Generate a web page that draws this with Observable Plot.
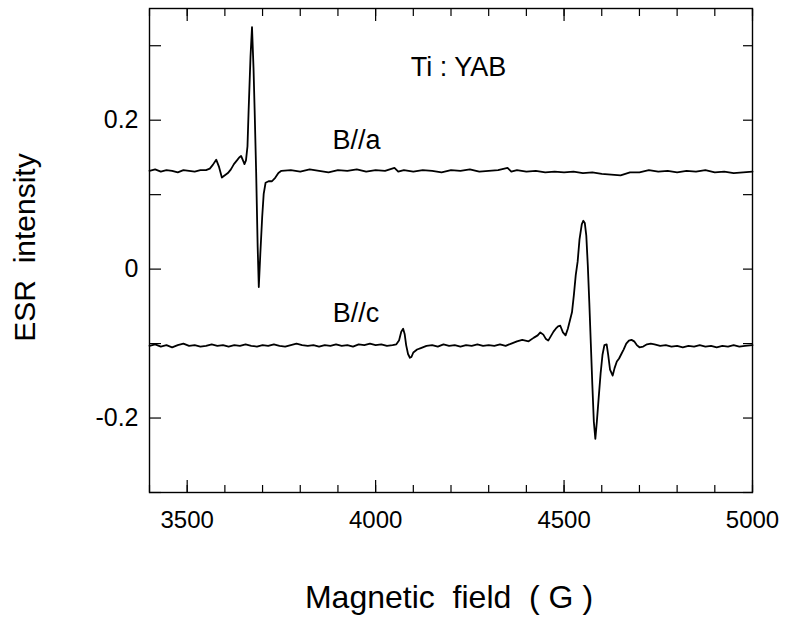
<!DOCTYPE html>
<html><head><meta charset="utf-8">
<script src="https://cdn.jsdelivr.net/npm/d3@7"></script>
<script src="https://cdn.jsdelivr.net/npm/@observablehq/plot@0.6"></script>
<style>
body{margin:0;background:#fff}
svg{font-family:"Liberation Sans",Arial,Helvetica,sans-serif}
</style>
</head><body><div id="chart"></div>
<script>
// ---- data ----
const seriesNames = ["B//a", "B//c"];
const sampleName = "Ti : YAB";

const fieldA = [3400,3415,3430,3445,3460,3475,3490,3505,3520,3535,3550,3560,3568,3577,3584,3592,3600,3608,3616,3624,3632,3638,3643,3648,3652,3656,3660,3663,3668,3672,3676,3679,3683,3687,3690,3694,3699,3703,3708,3716,3725,3734,3742,3750,
  3775,3800,3825,3850,3875,3900,3925,3950,3975,4000,4025,4050,4060,4075,4100,4125,4150,4175,4200,4225,4250,4275,4300,4325,4350,4360,4375,4400,4425,4450,4475,4500,4525,4550,4575,4600,4625,4650,4675,4700,4725,4750,4775,4800,4825,4850,4875,4900,4925,4950,4975,5000];
const intensityA = [0.132,0.134,0.131,0.133,0.132,0.130,0.133,0.132,0.131,0.133,0.133,0.135,0.140,0.147,0.138,0.123,0.126,0.129,0.134,0.141,0.146,0.150,0.152,0.146,0.141,0.146,0.165,0.213,0.285,0.325,0.270,0.213,0.130,0.030,-0.024,0.020,0.070,0.101,0.116,0.118,0.118,0.123,0.129,0.132,
  0.133,0.131,0.134,0.132,0.130,0.133,0.132,0.134,0.131,0.133,0.132,0.136,0.131,0.133,0.131,0.133,0.132,0.130,0.133,0.132,0.134,0.131,0.132,0.133,0.136,0.131,0.133,0.131,0.132,0.130,0.131,0.130,0.131,0.129,0.130,0.128,0.127,0.126,0.130,0.130,0.133,0.131,0.132,0.130,0.132,0.131,0.133,0.130,0.131,0.129,0.130,0.131];

const fieldC = [3400,3415,3430,3445,3460,3475,3490,3505,3520,3535,3550,3565,3580,3595,3610,3625,3640,3655,3670,3685,3700,3715,3730,3745,3760,3775,3790,3805,3820,3835,3850,3865,3880,3895,3910,3925,3940,3955,3970,3985,4000,4015,4030,4045,
  4055,4062,4068,4073,4077,4081,4086,4091,4095,4100,4110,4120,4135,4150,4165,4180,4195,4210,4225,4240,4255,4270,4285,4300,4315,4330,4345,4360,4375,4389,4406,4420,4430,4437,4445,4452,4458,4465,4472,4478,4484,4490,4497,4504,4510,4516,4521,4526,4531,4536,4541,4547,4551,4555,4559,4563,4567,4571,4575,4579,4583,4587,4592,4597,4602,4607,4613,4617,4622,4629,4634,4640,4646,4652,4658,4665,4672,4679,4686,4693,4700,4710,4720,4730,4740,4755,4770,4785,4800,4815,4830,4845,4860,4875,4890,4905,4920,4935,4950,4965,4980,5000];
const intensityC = [-0.103,-0.101,-0.104,-0.102,-0.105,-0.102,-0.100,-0.103,-0.102,-0.104,-0.103,-0.101,-0.103,-0.102,-0.104,-0.102,-0.103,-0.101,-0.103,-0.104,-0.102,-0.103,-0.101,-0.103,-0.104,-0.102,-0.100,-0.102,-0.103,-0.102,-0.104,-0.102,-0.103,-0.101,-0.103,-0.102,-0.104,-0.101,-0.102,-0.100,-0.102,-0.101,-0.103,-0.102,
  -0.101,-0.096,-0.084,-0.080,-0.087,-0.102,-0.114,-0.119,-0.118,-0.112,-0.108,-0.106,-0.103,-0.102,-0.104,-0.101,-0.103,-0.102,-0.104,-0.102,-0.103,-0.101,-0.103,-0.102,-0.103,-0.101,-0.103,-0.100,-0.097,-0.095,-0.097,-0.092,-0.089,-0.085,-0.088,-0.094,-0.096,-0.090,-0.084,-0.080,-0.077,-0.076,-0.085,-0.089,-0.080,-0.068,-0.058,-0.035,-0.008,0.010,0.040,0.060,0.065,0.062,0.045,0.005,-0.045,-0.100,-0.155,-0.205,-0.228,-0.205,-0.172,-0.140,-0.115,-0.102,-0.101,-0.115,-0.135,-0.143,-0.133,-0.124,-0.120,-0.114,-0.108,-0.100,-0.096,-0.095,-0.097,-0.102,-0.105,-0.104,-0.101,-0.100,-0.101,-0.103,-0.102,-0.104,-0.103,-0.105,-0.103,-0.104,-0.102,-0.104,-0.103,-0.105,-0.103,-0.104,-0.102,-0.104,-0.103,-0.102];

const xMinorTicks = [3400,3500,3600,3700,3800,3900,4000,4100,4200,4300,4400,4500,4600,4700,4800,4900,5000];
const xMajorTicks = [3500,4000,4500,5000];
const yTicks = [-0.3,-0.2,-0.1,0,0.1,0.2,0.3];
const yLabelTicks = [-0.2,0,0.2];

// annotation anchor points (data coordinates)
const annotations = [
  {text: sampleName, x: 4220, y: 0.271},
  {text: seriesNames[0], x: 3949, y: 0.173},
  {text: seriesNames[1], x: 3948, y: -0.060}
];

const rows = [
  ...d3.zip(fieldA, intensityA).map(([f, v]) => ({field: f, value: v, series: seriesNames[0]})),
  ...d3.zip(fieldC, intensityC).map(([f, v]) => ({field: f, value: v, series: seriesNames[1]}))
];

const chart = Plot.plot({
  width: 786,
  height: 628,
  marginLeft: 149,
  marginRight: 34,
  marginTop: 8,
  marginBottom: 136,
  x: {domain: [3400, 5000]},
  y: {domain: [-0.3, 0.35]},
  style: {background: "#fff", color: "#000"},
  marks: [
    Plot.line(rows, {x: "field", y: "value", z: "series", stroke: "#000", strokeWidth: 1.8}),
    Plot.frame({stroke: "#000", strokeWidth: 1.4}),
    // inward ticks
    Plot.axisX({anchor: "bottom", ticks: xMinorTicks, tickSize: -7, tickFormat: () => "", label: null, strokeWidth: 1.2}),
    Plot.axisX({anchor: "bottom", ticks: xMajorTicks, tickSize: -12, tickFormat: () => "", label: null, strokeWidth: 1.2}),
    Plot.axisX({anchor: "top", ticks: xMinorTicks, tickSize: -7, tickFormat: () => "", label: null, strokeWidth: 1.2}),
    Plot.axisX({anchor: "top", ticks: xMajorTicks, tickSize: -12, tickFormat: () => "", label: null, strokeWidth: 1.2}),
    Plot.axisY({anchor: "left", ticks: yTicks, tickSize: -12, tickFormat: () => "", label: null, strokeWidth: 1.2}),
    Plot.axisY({anchor: "right", ticks: yTicks, tickSize: -10, tickFormat: () => "", label: null, strokeWidth: 1.2}),
    // tick labels
    Plot.axisX({anchor: "bottom", ticks: xMajorTicks, tickSize: 0, tickPadding: 18, tickFormat: d => String(d), label: null, fontSize: 24, style: "letter-spacing: 1.5px"}),
    Plot.axisY({anchor: "left", ticks: yLabelTicks, tickSize: 0, tickPadding: 11, tickFormat: d => d === 0 ? "0" : (d < 0 ? "-" : "") + Math.abs(d).toString(), label: null, fontSize: 25, style: "letter-spacing: 1px"}),
    // annotations
    Plot.text(annotations, {x: "x", y: "y", text: "text", fontSize: 27, fill: "#000"}),
    // axis titles
    Plot.text(["ESR  intensity"], {frameAnchor: "left", textAnchor: "middle", rotate: -90, dx: -124, dy: -3, fontSize: 30, fill: "#000", style: "white-space: pre; letter-spacing: 1px"}),
    Plot.text(["Magnetic  field  ( G )"], {frameAnchor: "bottom", textAnchor: "middle", dx: -2, dy: 115, fontSize: 32, fill: "#000", style: "white-space: pre"})
  ]
});
document.getElementById("chart").appendChild(chart);
</script>
</body></html>
